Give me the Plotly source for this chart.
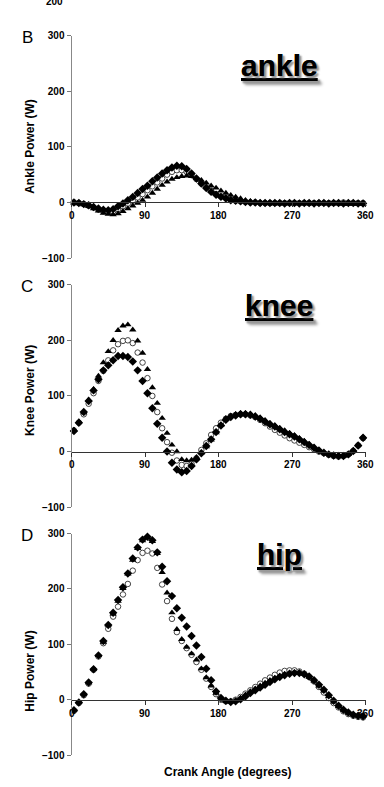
import plotly.graph_objects as go

W, H = 384, 787

angle = [3, 9, 15, 21, 27, 33, 39, 45, 51, 57,
         63, 69, 75, 81, 87, 93, 99, 105, 111, 117,
         123, 129, 135, 141, 147, 153, 159, 165, 171, 177,
         183, 189, 195, 201, 207, 213, 219, 225, 231, 237,
         243, 249, 255, 261, 267, 273, 279, 285, 291, 297,
         303, 309, 315, 321, 327, 333, 339, 345, 351, 357]

ankle_diamond = [0, -1, -3, -5, -8, -11, -13, -14, -12, -7,
                 -2, 4, 10, 17, 24, 30, 38, 45, 52, 58,
                 63, 66, 65, 60, 52, 43, 34, 26, 19, 14,
                 10, 7, 4, 3, 2, 1, 0, 0, -1, -1,
                 -1, -1, -1, -2, -1, -1, -2, -1, -1, -2,
                 -1, -1, -2, -1, -1, -2, -1, -1, -2, -2]
ankle_circle = [0, -1, -3, -6, -9, -13, -16, -17, -16, -12,
                -7, -2, 3, 9, 15, 22, 29, 36, 43, 50,
                55, 58, 58, 55, 49, 42, 34, 27, 21, 15,
                11, 8, 5, 3, 2, 1, 0, 0, -1, -1,
                -1, -1, -1, -1, -1, -1, -1, -1, -1, -1,
                -1, -1, -1, -1, -1, 0, -1, -1, -1, -1]
ankle_triangle = [-1, -2, -4, -7, -11, -15, -19, -21, -22, -20,
                  -16, -11, -6, -1, 4, 10, 17, 24, 31, 37,
                  42, 45, 47, 48, 47, 44, 40, 35, 30, 26,
                  21, 17, 13, 10, 7, 4, 2, 1, 0, -1,
                  -2, -2, -2, -2, -2, -2, -2, -2, -2, -2,
                  -2, -2, -2, -2, -2, -3, -3, -3, -3, -3]

knee_diamond = [37, 52, 71, 91, 110, 130, 146, 155, 164, 172,
                172, 170, 162, 146, 127, 105, 78, 50, 25, 0,
                -20, -32, -37, -35, -26, -14, -3, 10, 22, 35,
                47, 57, 62, 65, 67, 67, 66, 63, 59, 54,
                49, 45, 40, 35, 31, 27, 22, 17, 12, 7,
                2, -2, -5, -7, -8, -8, -5, 1, 11, 25]
knee_circle = [38, 52, 67, 86, 105, 127, 145, 164, 182, 193,
               199, 200, 195, 178, 160, 132, 100, 71, 42, 17,
               -2, -16, -24, -26, -22, -12, 3, 15, 30, 42,
               52, 59, 64, 66, 67, 67, 65, 62, 57, 51,
               45, 39, 34, 29, 24, 20, 16, 12, 8, 4,
               0, -3, -6, -8, -9, -8, -5, 1, 11, 24]
knee_triangle = [39, 54, 70, 93, 112, 136, 160, 180, 200, 218,
                 226, 228, 219, 199, 177, 148, 115, 87, 60, 33,
                 12, 0, -14, -16, -15, -10, -2, 9, 21, 34,
                 48, 60, 64, 67, 69, 69, 68, 65, 61, 56,
                 51, 47, 42, 38, 33, 29, 24, 19, 13, 8,
                 2, -2, -5, -7, -8, -8, -5, 2, 12, 26]

hip_diamond = [-19, -5, 10, 31, 55, 80, 106, 135, 157, 180,
               203, 228, 255, 275, 289, 294, 288, 266, 240, 214,
               187, 165, 148, 132, 115, 98, 77, 56, 35, 15,
               3, -2, -4, -3, 1, 6, 12, 17, 22, 27,
               32, 37, 41, 44, 47, 48, 48, 46, 42, 35,
               27, 18, 8, -2, -11, -18, -23, -27, -29, -30]
hip_circle = [-20, -6, 8, 29, 54, 78, 102, 128, 150, 168,
              190, 209, 233, 252, 265, 269, 264, 238, 208, 178,
              146, 122, 106, 93, 81, 68, 54, 38, 23, 10,
              0, -3, -3, 0, 5, 11, 17, 23, 29, 35,
              40, 45, 49, 52, 53, 53, 51, 47, 41, 33,
              23, 13, 3, -6, -14, -21, -26, -29, -31, -32]
hip_triangle = [-19, -5, 10, 31, 55, 80, 104, 135, 155, 178,
                201, 227, 252, 273, 287, 293, 286, 264, 230, 193,
                157, 127, 109, 95, 83, 72, 56, 40, 25, 12,
                1, -3, -4, -2, 3, 9, 15, 20, 25, 30,
                35, 39, 43, 46, 48, 49, 48, 46, 41, 34,
                25, 16, 6, -4, -12, -19, -24, -27, -29, -30]

x_ticks = [0, 90, 180, 270, 360]
x_tick_labels = ["0", "90", "180", "270", "360"]
y_ticks = [-100, 0, 100, 200, 300]
y_range = [-100, 300]

panels = [
    dict(letter="B", name="ankle", ytitle="Ankle Power (W)",
         d=ankle_diamond, o=ankle_circle, t=ankle_triangle,
         top=30, bottom=256, title_y=60, ytitle_y=143),
    dict(letter="C", name="knee", ytitle="Knee Power (W)",
         d=knee_diamond, o=knee_circle, t=knee_triangle,
         top=283, bottom=509, title_y=304, ytitle_y=391),
    dict(letter="D", name="hip", ytitle="Hip Power (W)",
         d=hip_diamond, o=hip_circle, t=hip_triangle,
         top=535.7, bottom=760.7, title_y=557, ytitle_y=676),
]

FONT = "Liberation Sans, Arial, Helvetica, sans-serif"
x_left, x_right = 71.5, 365.5
xdom = [x_left / W, x_right / W]

fig = go.Figure()
layout = dict(width=W, height=H, margin=dict(l=0, r=0, t=0, b=0),
              paper_bgcolor="white", plot_bgcolor="white",
              showlegend=False, font=dict(family=FONT, color="black"))
annotations = []

for i, p in enumerate(panels):
    n = "" if i == 0 else str(i + 1)
    xa, ya = "x" + n, "y" + n
    y0 = 1 - p["bottom"] / H
    y1 = 1 - p["top"] / H
    zero_pos = y0 + (0 - y_range[0]) / (y_range[1] - y_range[0]) * (y1 - y0)

    fig.add_trace(go.Scatter(x=angle, y=p["o"], mode="markers", xaxis=xa, yaxis=ya,
                             cliponaxis=False,
                             marker=dict(symbol="circle", size=5.5, color="white",
                                         line=dict(color="#444", width=1))))
    fig.add_trace(go.Scatter(x=angle, y=p["d"], mode="markers", xaxis=xa, yaxis=ya,
                             cliponaxis=False,
                             marker=dict(symbol="diamond", size=6.5, color="black",
                                         line=dict(width=0))))
    fig.add_trace(go.Scatter(x=angle, y=p["t"], mode="markers", xaxis=xa, yaxis=ya,
                             cliponaxis=False,
                             marker=dict(symbol="triangle-up", size=6.5, color="black",
                                         line=dict(width=0))))

    layout["xaxis" + n] = dict(domain=xdom, range=[0, 360], anchor="free", position=zero_pos,
                               tickvals=x_ticks, ticks="outside", ticklen=4, tickwidth=1,
                               tickcolor="#333", showline=True, linecolor="#333", linewidth=1,
                               showgrid=False, zeroline=False, showticklabels=False,
                               layer="above traces")
    layout["yaxis" + n] = dict(domain=[y0, y1], range=y_range, anchor=xa,
                               tickvals=y_ticks, ticks="outside", ticklen=4, tickwidth=1,
                               tickcolor="#777", showline=True, linecolor="#888", linewidth=1,
                               showgrid=False, zeroline=False,
                               tickfont=dict(size=10, family=FONT, weight="bold", color="black"))

    # x tick labels placed on the x scale just below the zero line
    for tv, tl in zip(x_ticks, x_tick_labels):
        annotations.append(dict(text=tl, xref=xa, yref="paper", x=tv,
                                y=zero_pos - 13.5 / H, xanchor="center", yanchor="middle",
                                showarrow=False,
                                font=dict(size=10, family=FONT, weight="bold", color="black")))

    annotations.append(dict(text=p["letter"], xref="paper", yref="paper",
                            x=27 / W, y=1 - (p["top"] + 2) / H, xanchor="center", yanchor="middle",
                            showarrow=False, font=dict(size=17, family=FONT, color="black")))
    annotations.append(dict(text="<u>" + p["name"] + "</u>", xref="paper", yref="paper",
                            x=279 / W, y=1 - p["title_y"] / H, xanchor="center", yanchor="middle",
                            showarrow=False,
                            font=dict(size=30, family=FONT, weight="bold", color="black",
                                      shadow="2px 2px 2px #999")))
    annotations.append(dict(text=p["ytitle"], xref="paper", yref="paper",
                            x=30 / W, y=1 - p["ytitle_y"] / H, xanchor="center", yanchor="middle",
                            textangle=-90, showarrow=False,
                            font=dict(size=12, family=FONT, weight="bold", color="black")))

annotations.append(dict(text="Crank Angle (degrees)", xref="paper", yref="paper",
                        x=228 / W, y=1 - 778 / H, xanchor="center", yanchor="middle",
                        showarrow=False, font=dict(size=12, family=FONT, weight="bold", color="black")))
annotations.append(dict(text="200", xref="paper", yref="paper",
                        x=54 / W, y=1 + 5 / H, xanchor="center", yanchor="middle",
                        showarrow=False, font=dict(size=10, family=FONT, weight="bold", color="black")))

layout["annotations"] = annotations
fig.update_layout(**layout)
fig.write_html("out.html")
